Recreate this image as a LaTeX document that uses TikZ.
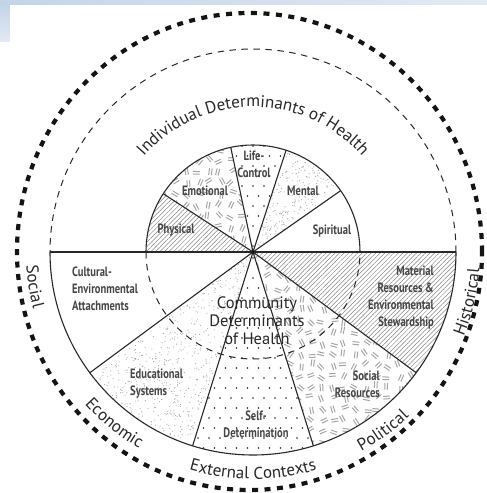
\documentclass[tikz,border=0pt]{standalone}
\usepackage{fontspec}
\setmainfont{PT Sans}
\newfontfamily\labfont[FakeStretch=0.78]{PT Sans}
\usetikzlibrary{patterns.meta,decorations.text}
\definecolor{ink}{RGB}{40,40,40}
\definecolor{labink}{RGB}{70,70,70}
\definecolor{outk}{RGB}{20,20,20}
\definecolor{dotgray}{RGB}{165,165,165}
\definecolor{markgray}{RGB}{165,165,165}
\definecolor{hatchgray}{RGB}{135,135,135}
\definecolor{bgblue}{RGB}{196,212,232}
\definecolor{bgblue2}{RGB}{226,234,244}
\newcommand\myarcfont{\fontsize{17}{17}\selectfont\color{ink}}
\begin{document}
\begin{tikzpicture}[x=1pt,y=1pt,
 secline/.style={draw=ink,line width=1.1pt},
 dashline/.style={draw=ink,line width=1pt,dash pattern=on 6.5pt off 5.5pt},
 outerdash/.style={draw=outk,line width=4.2pt,dash pattern=on 6pt off 6.5pt},
 hatchfill/.style={pattern={Lines[angle=45,distance=3.2pt,line width=0.5pt]},pattern color=hatchgray},
 lab/.style={font=\fontsize{13.5}{17}\labfont\bfseries,text=labink,inner sep=0pt},
 biglab/.style={font=\fontsize{16.5}{18}\selectfont,text=ink,inner sep=0pt},
 arctext/.style={decorate,decoration={text along path,text={|\myarcfont|#1},text align=center}},
 stip/.style={fill=dotgray},
 gdot/.style={fill=ink},
 dmark/.style={draw=markgray,line width=1pt}]
\useasboundingbox (-253,-241) rectangle (234,252);
\fill[white] (-253,-241) rectangle (234,252);
\shade[left color=bgblue,right color=bgblue2] (-253,247) rectangle (234,252);
\shade[top color=bgblue,bottom color=bgblue2] (-253,210) rectangle (-243,247);
\coordinate (c) at (0,0);
\pgfmathsetseed{42}
% hatched sectors
\fill[hatchfill] (c) -- (147:107) arc[start angle=147,end angle=180,radius=107] -- cycle;
\fill[hatchfill] (c) -- (323.5:203) arc[start angle=323.5,end angle=360,radius=203] -- cycle;
% stipple
\foreach \i in {1,...,200}{\pgfmathsetmacro\qr{105*sqrt(rnd)}\pgfmathsetmacro\qa{36+35*rnd}\fill[stip] (\qa:\qr) circle (0.55);}
\foreach \i in {1,...,560}{\pgfmathsetmacro\qr{201*sqrt(rnd)}\pgfmathsetmacro\qa{217.5+34.2*rnd}\fill[stip] (\qa:\qr) circle (0.55);}
% grid dots
\begin{scope}
\clip (c) -- (72:107) arc[start angle=72,end angle=102,radius=107] -- cycle;
\foreach \row in {0,...,10}{\foreach \col in {-4,...,4}{\fill[gdot] ({\col*11+mod(\row,2)*5.5},{\row*10+6}) circle (0.9);}}
\end{scope}
\begin{scope}
\clip (c) -- (252.7:203) arc[start angle=252.7,end angle=287.3,radius=203] -- cycle;
\foreach \row in {0,...,20}{\foreach \col in {-7,...,7}{\fill[gdot] ({\col*11+mod(\row,2)*5.5},{-\row*10-6}) circle (0.9);}}
\end{scope}
% dash marks
\begin{scope}
\clip (c) -- (102:107) arc[start angle=102,end angle=147,radius=107] -- cycle;
\foreach \gx in {0,...,10}{\foreach \gy in {0,...,10}{
 \pgfmathsetmacro\qx{-110+\gx*11+5*rnd-2.5}
 \pgfmathsetmacro\qy{\gy*11+3+5*rnd-2.5}
 \pgfmathsetmacro\qa{180*rnd}
 \draw[dmark,shift={(\qx,\qy)},rotate=\qa] (-3.4,-1.3)--(3.4,-1.3) (-3.4,1.3)--(3.4,1.3);
}}
\end{scope}
\begin{scope}
\clip (c) -- (287.3:203) arc[start angle=287.3,end angle=323.5,radius=203] -- cycle;
\foreach \gx in {0,...,16}{\foreach \gy in {0,...,19}{
 \pgfmathsetmacro\qx{\gx*11+3+5*rnd-2.5}
 \pgfmathsetmacro\qy{-\gy*11-3+5*rnd-2.5}
 \pgfmathsetmacro\qa{180*rnd}
 \draw[dmark,shift={(\qx,\qy)},rotate=\qa] (-3.4,-1.3)--(3.4,-1.3) (-3.4,1.3)--(3.4,1.3);
}}
\end{scope}
% circles and lines
\draw[outerdash] (-3.5,0.5) ellipse [x radius=232.5, y radius=238.5];
\draw[dashline] (0:203) arc[start angle=0,end angle=180,radius=203];
\draw[dashline] (180:107) arc[start angle=180,end angle=360,radius=107];
\draw[secline] (180:203) arc[start angle=180,end angle=360,radius=203];
\draw[secline] (0:107) arc[start angle=0,end angle=180,radius=107];
\draw[secline] (180:203) -- (0:203);
\foreach \a in {35,72,102,147}{\draw[secline] (c) -- (\a:107);}
\foreach \a in {216.5,252.7,287.3,323.5}{\draw[secline] (c) -- (\a:203);}
\fill[outk] (c) circle (1.6);
% labels
\node[lab,align=center] (life) at (1,88) {Life-\\Control};
\node[lab] (emo) at (-48,61) {Emotional};
\node[lab] (men) at (50,61) {Mental};
\node[lab] (phy) at (-77,22) {Physical};
\node[lab] (spi) at (79,21) {Spiritual};
\node[lab,align=left,anchor=west] (cult) at (-181,-37) {Cultural-\\Environmental\\Attachments};
\node[lab,align=left,anchor=west] (edu) at (-123,-132) {Educational\\Systems};
\node[lab,align=center] (self) at (3,-172) {Self-\\Determination};
\node[lab,align=right,anchor=east] (soc) at (127,-132) {Social\\Resources};
\node[lab,align=right,anchor=east] (mat) at (181,-45.5) {Material\\Resources \&\\Environmental\\Stewardship};
\node[biglab,align=center] (comm) at (4,-69) {Community\\Determinants\\of Health};
% arc texts
\path[arctext={Individual Determinants of Health}] (141:145) arc[start angle=141,end angle=39,radius=145];
\path[arctext={Social}] (159:227) arc[start angle=159,end angle=219,radius=227];
\path[arctext={Economic}] (201:227) arc[start angle=201,end angle=261,radius=227];
\path[arctext={External Contexts}] (240:227) arc[start angle=240,end angle=300,radius=227];
\path[arctext={Political}] (276:227) arc[start angle=276,end angle=336,radius=227];
\path[arctext={Historical}] (317:227) arc[start angle=317,end angle=377,radius=227];
\end{tikzpicture}
\end{document}
